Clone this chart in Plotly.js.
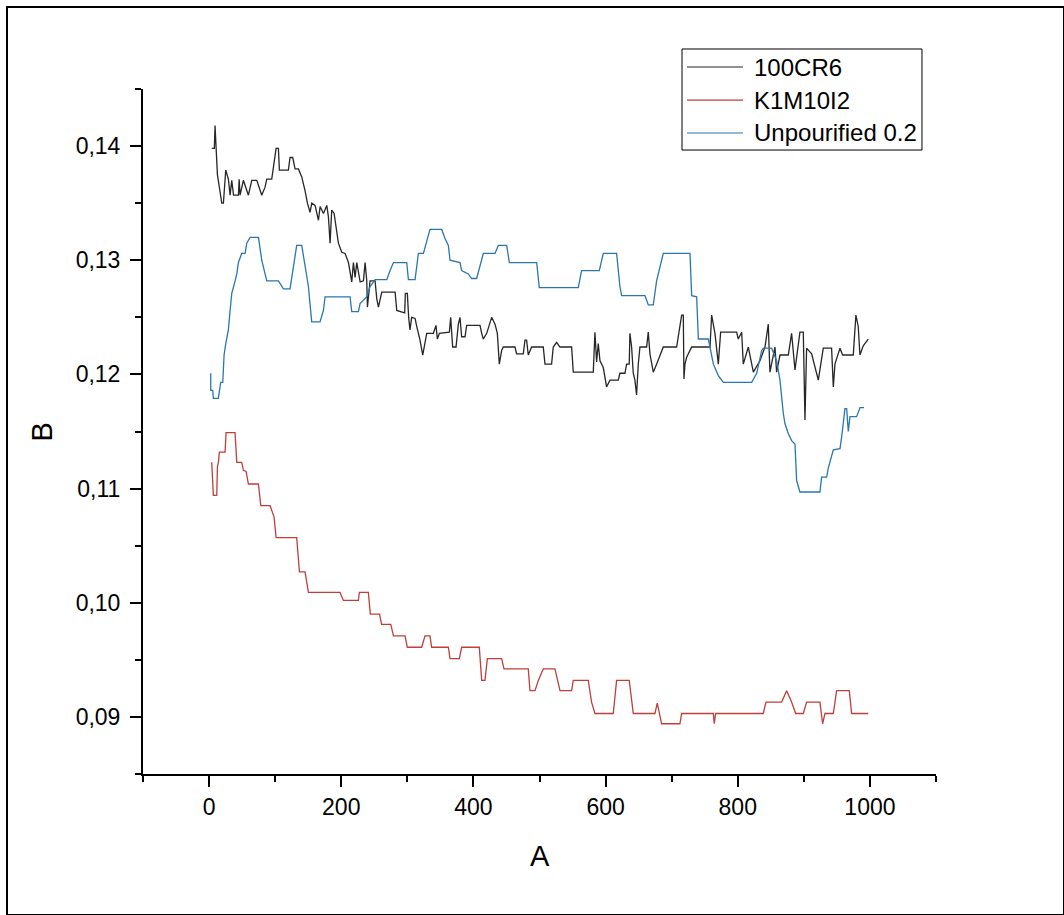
<!DOCTYPE html>
<html>
<head>
<meta charset="utf-8">
<script src="https://cdn.plot.ly/plotly-3.0.1.min.js"></script>
<style>
  html, body { margin: 0; padding: 0; background: #fff; }
  #chart { position: absolute; left: 0; top: 0; width: 1064px; height: 915px; }
  #frame { position: absolute; left: 6px; top: 6px; width: 1055px; height: 906px; border: 2px solid #000; pointer-events: none; }
</style>
</head>
<body>
<div id="chart"></div>
<div id="frame"></div>
<script>
// ---- Data ----
const seriesNames = ["100CR6", "K1M10I2", "Unpourified 0.2"];

const x100CR6 = [4, 8, 9, 10.6, 12.6, 16.6, 19.2, 21.7, 25.2, 29.2, 31.8, 34.3, 37, 44.4, 45.5, 46.9, 51.9, 59.5, 64.6, 72.2, 79.7, 84.7, 87.3, 94.8, 97.3, 101.4, 104.9, 106.4, 120, 122.5, 126.6, 130.1, 135.2, 140.2, 145.2, 148.8, 152.8, 155.4, 160.4, 162.9, 165.5, 168, 173.1, 178.1, 180.6, 183.1, 185.6, 189.2, 193.2, 195.7, 200.8, 205.8, 210.9, 213.3, 215.9, 218.4, 220.9, 223.5, 228.6, 233.6, 236.1, 238.6, 239.6, 243.6, 251.2, 253.8, 256.3, 261.3, 281.5, 284, 296, 297, 300, 302,
  304, 306.6, 311.7, 314.2, 319.2, 323.3, 326.8, 329.3, 339.4, 343.4, 345.4, 348.5, 363.6, 365.6, 368.6, 373.7, 377.2, 379.7, 382.2, 387.3, 389.8, 410, 412.5, 415, 420.1, 427.6, 432.7, 436.2, 439.2, 442.7, 445.2, 462.9, 465.4, 475.5, 478, 480.5, 483, 488.1, 505.7, 508.3, 518.3, 520.8, 525.9, 530.9, 548.6, 551.1, 581.4, 583.9, 586.4, 588.9, 591.5, 596.5, 601.5, 606.6, 619.2, 621.7, 629.3, 631.8, 635.8, 636.8, 639.4, 641.9, 644.4, 646.9, 649.5, 652, 662.1, 664.6, 667.1, 672.2, 677.2, 687.3, 707.5, 712.5,
  715.1, 717.6, 718.6, 720.1, 722.7, 730.3, 758, 760.5, 765.5, 770.6, 774.1, 798.3, 800.8, 805.9, 808.4, 816, 823.6, 833.6, 841.2, 846.2, 848.7, 856.3, 858.8, 863.9, 876.5, 881.5, 886.6, 894.1, 899.2, 901.7, 904.2, 911.8, 916.8, 921.9, 929.4, 942, 944.6, 947.1, 954.7, 958.7, 974.8, 978.8, 982.3, 984.9, 989.9, 997.5];
const y100CR6 = [0.1398, 0.1398, 0.1418, 0.1400, 0.1375, 0.1360, 0.1350, 0.1350, 0.1379, 0.1371, 0.1357, 0.1370, 0.1357, 0.1357, 0.1371, 0.1357, 0.1370, 0.1357, 0.1370, 0.1370, 0.1357, 0.1364, 0.1371, 0.1371, 0.1380, 0.1398, 0.1398, 0.1379, 0.1379, 0.1390, 0.1390, 0.1380, 0.1380, 0.1373, 0.1361, 0.1350, 0.1342, 0.1350, 0.1348, 0.1342, 0.1335, 0.1347, 0.1341, 0.1348, 0.1338, 0.1315, 0.1344, 0.1341, 0.1326, 0.1315, 0.1307, 0.1306, 0.1298, 0.1291, 0.1281, 0.1298, 0.1285, 0.1298, 0.1281, 0.1282, 0.1298, 0.1282, 0.1259, 0.1282, 0.1282, 0.1266, 0.1259, 0.1272, 0.1272, 0.1256, 0.1254, 0.1271, 0.1271, 0.1250,
  0.1239, 0.1250, 0.1249, 0.1242, 0.1230, 0.1217, 0.1230, 0.1236, 0.1236, 0.1243, 0.1231, 0.1236, 0.1237, 0.1250, 0.1224, 0.1224, 0.1244, 0.1250, 0.1233, 0.1233, 0.1243, 0.1243, 0.1236, 0.1231, 0.1236, 0.1250, 0.1244, 0.1236, 0.1209, 0.1221, 0.1224, 0.1224, 0.1218, 0.1218, 0.1230, 0.1230, 0.1217, 0.1224, 0.1224, 0.1209, 0.1209, 0.1224, 0.1228, 0.1224, 0.1224, 0.1202, 0.1202, 0.1237, 0.1211, 0.1227, 0.1212, 0.1206, 0.1189, 0.1195, 0.1195, 0.1201, 0.1201, 0.1209, 0.1209, 0.1236, 0.1224, 0.1201, 0.1195, 0.1182, 0.1209, 0.1224, 0.1224, 0.1237, 0.1218, 0.1202, 0.1209, 0.1224, 0.1224, 0.1242,
  0.1252, 0.1252, 0.1196, 0.1209, 0.1215, 0.1224, 0.1224, 0.1252, 0.1236, 0.1209, 0.1237, 0.1237, 0.1231, 0.1237, 0.1209, 0.1224, 0.1202, 0.1212, 0.1224, 0.1244, 0.1202, 0.1224, 0.1202, 0.1217, 0.1217, 0.1236, 0.1204, 0.1237, 0.1237, 0.1160, 0.1223, 0.1218, 0.1206, 0.1195, 0.1223, 0.1223, 0.1189, 0.1209, 0.1223, 0.1217, 0.1217, 0.1252, 0.1242, 0.1217, 0.1225, 0.1231];

const xK1M10I2 = [4, 6.5, 11.6, 12.6, 14.1, 15.6, 24.2, 25.7, 39.3, 41.9, 49.4, 51.9, 56, 58, 59.5, 74.7, 78.2, 92.3, 96.4, 98.4, 101.4, 132.6, 136.7, 145.2, 150.3, 198.2, 203.2, 225.9, 227.4, 241, 244, 258, 261, 275, 279,
  289, 296.5, 300, 321.7, 326.8, 334.3, 336.8, 362.1, 364.6, 378.7, 382.2, 408.9, 412.5, 417.5, 421.1, 442.7, 446.3, 483, 485.6, 493.2, 498.2, 505.7, 523.4, 531, 548.6, 551.1, 573.8, 578.8, 583.9, 611.6, 616.7, 635.8, 641.9, 674.7, 678.2, 684.8, 712.5, 715.1, 742.8,
  763, 764.5, 766.5, 838.6, 842.7, 866.4, 874, 881.5, 887.6, 899.2, 904.2, 924.4, 928.4, 932, 944.6, 949.6, 968.8, 972.3, 997.5];
const yK1M10I2 = [0.1123, 0.1094, 0.1094, 0.1119, 0.1123, 0.1132, 0.1132, 0.1149, 0.1149, 0.1123, 0.1123, 0.1116, 0.1115, 0.1109, 0.1104, 0.1104, 0.1085, 0.1085, 0.1078, 0.1075, 0.1057, 0.1057, 0.1027, 0.1027, 0.1009, 0.1009, 0.1002, 0.1002, 0.1009, 0.1009, 0.0990, 0.0990, 0.0981, 0.0981, 0.0971,
  0.0971, 0.0971, 0.0961, 0.0961, 0.0971, 0.0971, 0.0961, 0.0961, 0.0951, 0.0951, 0.0961, 0.0961, 0.0932, 0.0932, 0.0951, 0.0951, 0.0942, 0.0942, 0.0923, 0.0923, 0.0932, 0.0942, 0.0942, 0.0923, 0.0923, 0.0932, 0.0932, 0.0913, 0.0903, 0.0903, 0.0932, 0.0932, 0.0903, 0.0903, 0.0912, 0.0894, 0.0894, 0.0903, 0.0903,
  0.0903, 0.0894, 0.0903, 0.0903, 0.0913, 0.0913, 0.0923, 0.0913, 0.0903, 0.0903, 0.0913, 0.0913, 0.0894, 0.0903, 0.0903, 0.0923, 0.0923, 0.0903, 0.0903];

const xUnpourified = [2.5, 2.5, 5.5, 6.5, 14, 15.6, 17.6, 20.7, 22.7, 25.2, 29.2, 31.8, 34.3, 39.4, 41.9, 44.4, 49.4, 54.5, 57, 62.1, 74.7, 79.7, 84.7, 87.3, 104.9, 112.5, 122.5, 127.6, 132.6, 140.2, 145.2, 150.3, 155.3, 167.9, 173, 175.5, 213.3, 215.9, 226, 228.5, 238.6, 243.6, 251.2, 268.9, 273.9, 279, 299.1,
  301.6, 311.7, 316.7, 324.3, 329.3, 334.3, 352, 357, 362.1, 364.6, 379.7, 382.2, 392.3, 397.4, 404.9, 410, 415, 432.7, 437.7, 450.3, 454.4, 495.7, 499.7, 558.7, 563.7, 590.5, 596.5, 616.7, 621.7, 624.3, 659.6, 664.6, 672.2, 677.2, 687.3, 712.5,
  727.7, 730.3, 737.8, 740.4, 755.5, 763.1, 770.6, 778.2, 821.1, 828.7, 836.2, 838.7, 851.3, 858.8, 863.9, 868.9, 871.4, 876.5, 881.5, 886.6, 889.1, 894.1, 924.4, 926.9, 934.5, 937, 944.6, 954.7, 957.2, 962.2, 964.8, 967.3, 969.8, 979.9, 985, 991];
const yUnpourified = [0.1201, 0.1186, 0.1186, 0.1179, 0.1179, 0.1186, 0.1193, 0.1193, 0.1217, 0.1227, 0.1239, 0.1256, 0.1271, 0.1282, 0.1288, 0.1298, 0.1306, 0.1306, 0.1315, 0.1320, 0.1320, 0.1300, 0.1288, 0.1282, 0.1282, 0.1275, 0.1275, 0.1294, 0.1313, 0.1313, 0.1294, 0.1277, 0.1246, 0.1246, 0.1256, 0.1268, 0.1268, 0.1255, 0.1255, 0.1262, 0.1268, 0.1277, 0.1283, 0.1283, 0.1291, 0.1298, 0.1298,
  0.1283, 0.1283, 0.1306, 0.1306, 0.1316, 0.1327, 0.1327, 0.1319, 0.1313, 0.1300, 0.1298, 0.1291, 0.1288, 0.1284, 0.1284, 0.1294, 0.1306, 0.1306, 0.1313, 0.1313, 0.1298, 0.1298, 0.1276, 0.1276, 0.1291, 0.1291, 0.1306, 0.1306, 0.1277, 0.1269, 0.1269, 0.1261, 0.1261, 0.1282, 0.1306, 0.1306,
  0.1306, 0.1269, 0.1268, 0.1231, 0.1231, 0.1209, 0.1199, 0.1193, 0.1193, 0.1201, 0.1221, 0.1223, 0.1223, 0.1212, 0.1195, 0.1166, 0.1157, 0.1148, 0.1142, 0.1139, 0.1107, 0.1097, 0.1097, 0.1110, 0.1110, 0.1118, 0.1134, 0.1135, 0.1145, 0.1170, 0.1170, 0.1150, 0.1163, 0.1163, 0.1171, 0.1171];

const yTickVals = [0.09, 0.10, 0.11, 0.12, 0.13, 0.14];
const yTickText = ["0,09", "0,10", "0,11", "0,12", "0,13", "0,14"];
const xTickVals = [0, 200, 400, 600, 800, 1000];
const xTickText = ["0", "200", "400", "600", "800", "1000"];
const xTitle = "A";
const yTitle = "B";

const colors = ["#262626", "#bf3f3b", "#2a77ad"];

// ---- Traces ----
const traces = [
  { x: x100CR6, y: y100CR6, name: seriesNames[0] },
  { x: xK1M10I2, y: yK1M10I2, name: seriesNames[1] },
  { x: xUnpourified, y: yUnpourified, name: seriesNames[2] }
].map((t, i) => Object.assign(t, {
  type: "scatter", mode: "lines",
  line: { color: colors[i], width: 1.3 },
  hoverinfo: "skip", showlegend: false
}));

const FONT = "Liberation Sans, Arial, sans-serif";

// ---- Legend drawn as box + sample lines + labels (paper coordinates) ----
const legBox = { x0: 0.6797, x1: 0.9823, y0: 0.9109, y1: 1.0584 };
const legRowsY = [1.0321, 0.9839, 0.9358];
const shapes = [{
  type: "rect", xref: "paper", yref: "paper",
  x0: legBox.x0, x1: legBox.x1, y0: legBox.y0, y1: legBox.y1,
  line: { color: "#000", width: 1 }, fillcolor: "rgba(0,0,0,0)"
}];
const annotations = [];
seriesNames.forEach((nm, i) => {
  shapes.push({
    type: "line", xref: "paper", yref: "paper",
    x0: 0.6860, x1: 0.7566, y0: legRowsY[i], y1: legRowsY[i],
    line: { color: colors[i], width: 1.2 }
  });
  annotations.push({
    xref: "paper", yref: "paper", x: 0.768, y: legRowsY[i],
    xanchor: "left", yanchor: "middle", showarrow: false,
    text: nm, font: { family: FONT, size: 24, color: "#000" }
  });
});
annotations.push({
  xref: "paper", yref: "paper", x: 0.5, y: -0.1197, xanchor: "center", yanchor: "middle",
  showarrow: false, text: xTitle, font: { family: FONT, size: 29, color: "#000" }
});
annotations.push({
  xref: "paper", yref: "paper", x: -0.1274, y: 0.5, xanchor: "center", yanchor: "middle",
  showarrow: false, textangle: -90, text: yTitle, font: { family: FONT, size: 29, color: "#000" }
});

const layout = {
  width: 1064, height: 915,
  paper_bgcolor: "#fff", plot_bgcolor: "#fff",
  margin: { l: 143, r: 128, t: 89, b: 141 },
  font: { family: FONT, color: "#000" },
  showlegend: false,
  shapes: shapes,
  annotations: annotations,
  xaxis: {
    range: [-100, 1100], showgrid: false, zeroline: false,
    showline: true, linecolor: "#000", linewidth: 2,
    ticks: "outside", ticklen: 11, tickwidth: 2, tickcolor: "#000",
    tickvals: xTickVals, ticktext: xTickText,
    tickfont: { family: FONT, size: 23, color: "#000" },
    minor: { dtick: 100, tick0: 0, ticks: "outside", ticklen: 6, tickwidth: 2, tickcolor: "#000", showgrid: false }
  },
  yaxis: {
    range: [0.085, 0.145], showgrid: false, zeroline: false,
    showline: true, linecolor: "#000", linewidth: 2,
    ticks: "outside", ticklen: 11, tickwidth: 2, tickcolor: "#000",
    tickvals: yTickVals, ticktext: yTickText, ticklabelstandoff: 5,
    tickfont: { family: FONT, size: 23, color: "#000" },
    minor: { dtick: 0.005, tick0: 0.085, ticks: "outside", ticklen: 6, tickwidth: 2, tickcolor: "#000", showgrid: false }
  }
};

Plotly.newPlot("chart", traces, layout, { displayModeBar: false, staticPlot: true });
</script>
</body>
</html>
